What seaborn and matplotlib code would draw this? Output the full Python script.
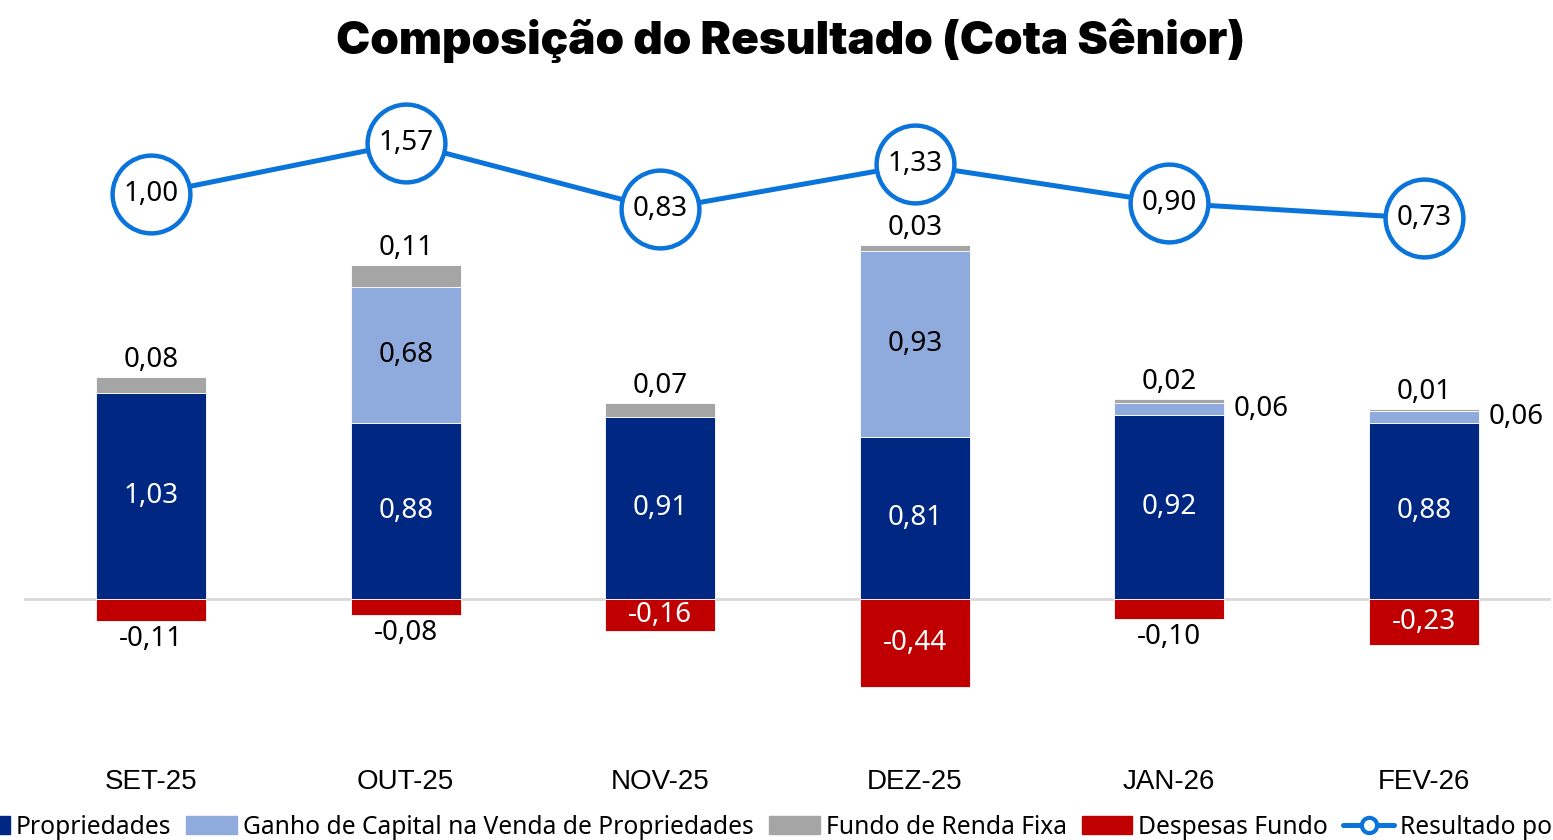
import numpy as np
import matplotlib
matplotlib.use("Agg")
import matplotlib.pyplot as plt
from matplotlib.lines import Line2D
from matplotlib.patches import Patch
import seaborn as sb

# chart data
meses = ["SET-25", "OUT-25", "NOV-25", "DEZ-25", "JAN-26", "FEV-26"]
propriedades = [1.03, 0.88, 0.91, 0.81, 0.92, 0.88]
ganho_capital = [0.00, 0.68, 0.00, 0.93, 0.06, 0.06]
renda_fixa = [0.08, 0.11, 0.07, 0.03, 0.02, 0.01]
despesas = [-0.11, -0.08, -0.16, -0.44, -0.10, -0.23]
resultado_cota = [1.00, 1.57, 0.83, 1.33, 0.90, 0.73]

series_names = ["Propriedades", "Ganho de Capital na Venda de Propriedades",
                "Fundo de Renda Fixa", "Despesas Fundo", "Resultado por Cota"]

C_PROP = "#002882"
C_GANHO = "#8FAADC"
C_RF = "#A5A5A5"
C_DESP = "#C00000"
C_LINE = "#0A74DA"

LABEL_FONT = ["Noto Sans", "DejaVu Sans"]


def fmt(v):
    return f"{v:.2f}".replace(".", ",")


sb.set_theme(style="white")
plt.rcParams["font.family"] = LABEL_FONT
plt.rcParams["text.color"] = "black"

fig = plt.figure(figsize=(15.53, 8.4), dpi=100)
ax = fig.add_axes([24 / 1553, 81 / 840, 1527 / 1553, 680 / 840])

x = np.arange(len(meses))
w = 0.432
prop = np.array(propriedades)
ganho = np.array(ganho_capital)
rf = np.array(renda_fixa)
desp = np.array(despesas)

bar_kw = dict(width=w, edgecolor="white", linewidth=0.6, zorder=2)
ax.bar(x, prop, color=C_PROP, **bar_kw)
ax.bar(x, ganho, bottom=prop, color=C_GANHO, **bar_kw)
ax.bar(x, rf, bottom=prop + ganho, color=C_RF, **bar_kw)
ax.bar(x, desp, color=C_DESP, **bar_kw)
ax.axhline(0, color="#D9D9D9", lw=2, zorder=1)

ax.set_xlim(-0.5, len(meses) - 0.5)
ax.set_ylim(-0.8, 2.6)
ax.set_yticks([])
ax.set_xticks(x)
ax.set_xticklabels(meses, fontsize=20, family=["Liberation Sans", "DejaVu Sans"],
                   color="black")
ax.tick_params(axis="x", length=0, pad=7)
for s in ax.spines.values():
    s.set_visible(False)

fs = 20
for i in x:
    # propriedades
    ax.text(i, prop[i] / 2, fmt(prop[i]), ha="center", va="center",
            color="white", fontsize=fs)
    # ganho de capital
    if ganho[i] >= 0.15:
        ax.text(i, prop[i] + ganho[i] / 2, fmt(ganho[i]), ha="center",
                va="center", color="black", fontsize=fs)
    elif ganho[i] > 0:
        ax.annotate(fmt(ganho[i]), (i + w / 2, prop[i] + ganho[i] / 2),
                    xytext=(7, 0), textcoords="offset points", ha="left",
                    va="center", color="black", fontsize=fs)
    # renda fixa
    top = prop[i] + ganho[i] + rf[i]
    ax.annotate(fmt(rf[i]), (i, top), xytext=(0, 2), textcoords="offset points",
                ha="center", va="bottom", color="black", fontsize=fs)
    # despesas
    if abs(desp[i]) >= 0.15:
        ax.text(i, desp[i] / 2, fmt(desp[i]), ha="center", va="center",
                color="white", fontsize=fs)
    else:
        ax.annotate(fmt(desp[i]), (i, desp[i]), xytext=(0, -3),
                    textcoords="offset points", ha="center", va="top",
                    color="black", fontsize=fs)

# resultado por cota on secondary axis
ax2 = ax.twinx()
sb.lineplot(x=x, y=resultado_cota, ax=ax2, color=C_LINE, lw=3.6, marker="o",
            markersize=56, markerfacecolor="white", markeredgecolor=C_LINE,
            markeredgewidth=3.2, zorder=5)
ax2.set_ylim(-5.28, 2.28)
ax2.set_yticks([])
for s in ax2.spines.values():
    s.set_visible(False)
for i, v in zip(x, resultado_cota):
    ax2.text(i, v, fmt(v), ha="center", va="center", color="black",
             fontsize=fs, zorder=6)

fig.text(0.5093, 0.952, "Composição do Resultado (Cota Sênior)", ha="center",
         va="center", fontsize=33, fontweight="black", color="black",
         family=["Inter", "DejaVu Sans"])

handles = [Patch(color=C_PROP), Patch(color=C_GANHO), Patch(color=C_RF),
           Patch(color=C_DESP),
           Line2D([0], [0], color=C_LINE, lw=3.6, marker="o", markersize=11,
                  markerfacecolor="white", markeredgecolor=C_LINE,
                  markeredgewidth=3)]
leg = fig.legend(handles, series_names, loc="center left", ncol=5,
                 bbox_to_anchor=(-41 / 1553, 1 - 827 / 840), frameon=False,
                 fontsize=17.7, handlelength=2.07, handleheight=0.7,
                 handletextpad=0.24, columnspacing=0.61, borderpad=0,
                 borderaxespad=0)
for t in leg.get_texts():
    t.set_color("black")

fig.savefig("out.png", dpi=100)
